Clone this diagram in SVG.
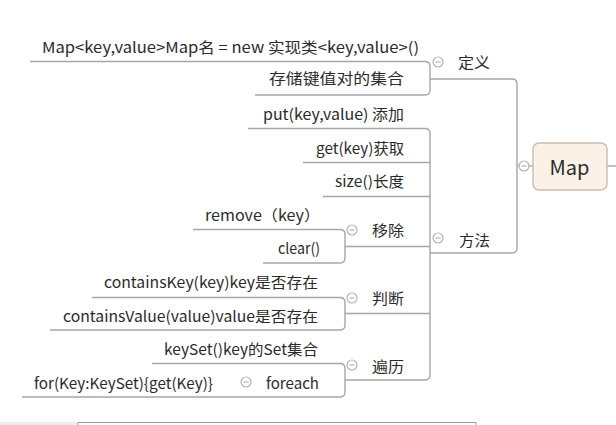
<svg xmlns="http://www.w3.org/2000/svg" width="616" height="425" viewBox="0 0 616 425">
<style>
.t{font-family:"Microsoft YaHei","Noto Sans CJK SC","Noto Sans",sans-serif;font-size:15px;fill:#2b2b2b;dominant-baseline:central;text-anchor:end}
.c{fill:none;stroke:#a6a6a6;stroke-width:1.4}
.btn{fill:#fff;stroke:#b4b4b4;stroke-width:1.2}
.mn{stroke:#b4b4b4;stroke-width:1.2}
</style>
<defs>
<g id="col"><circle class="btn" r="5"/><line class="mn" x1="-2.5" y1="0" x2="2.5" y2="0"/></g>
</defs>
<rect width="616" height="425" fill="#fff"/>
<g id="connectors">
<path class="c" d="M607,166 H616"/>
<path class="c" d="M517,166 H533"/>
<path class="c" d="M430,79 H512 Q517,79 517,84 V248 Q517,253 512,253 H430"/>
<path class="c" d="M30,61.5 H425 Q430,61.5 430,66.5 V90 Q430,95 425,95 H255"/>
<path class="c" d="M248,128.5 H425 Q430,128.5 430,133.5 V375 Q430,380 425,380 H345"/>
<path class="c" d="M303,162.5 H430 M323,196.5 H430 M345,246.5 H430 M345,313.5 H430"/>
<path class="c" d="M193,229.5 H340 Q345,229.5 345,234.5 V258 Q345,263 340,263 H263"/>
<path class="c" d="M92,297.5 H340 Q345,297.5 345,302.5 V325 Q345,330 340,330 H50"/>
<path class="c" d="M152,363.5 H340 Q345,363.5 345,368.5 V392 Q345,397 340,397 H22"/>
</g>
<g id="n-map">
<rect x="533" y="143" width="74" height="47" rx="6" fill="#fcf1e7" stroke="#cbbcae" stroke-width="1.4"/>
<text class="t" x="569.5" y="166" style="text-anchor:middle;font-size:20px">Map</text>
<use href="#col" x="524" y="166"/>
</g>
<g id="n-def">
<text class="t" x="490" y="61" textLength="32" lengthAdjust="spacingAndGlyphs">定义</text>
<use href="#col" x="438" y="62"/>
</g>
<g id="n-def1"><text class="t" x="419" y="46" textLength="377" lengthAdjust="spacingAndGlyphs">Map&lt;key,value&gt;Map名 = new 实现类&lt;key,value&gt;()</text></g>
<g id="n-def2"><text class="t" x="404" y="77" textLength="135" lengthAdjust="spacingAndGlyphs">存储键值对的集合</text></g>
<g id="n-method">
<text class="t" x="490" y="239" textLength="31" lengthAdjust="spacingAndGlyphs">方法</text>
<use href="#col" x="438" y="238"/>
</g>
<g id="n-put"><text class="t" x="404" y="113" textLength="141" lengthAdjust="spacingAndGlyphs">put(key,value)  添加</text></g>
<g id="n-get"><text class="t" x="404" y="147" textLength="88" lengthAdjust="spacingAndGlyphs">get(key)获取</text></g>
<g id="n-size"><text class="t" x="404" y="180" textLength="69" lengthAdjust="spacingAndGlyphs">size()长度</text></g>
<g id="n-remove-grp">
<text class="t" x="404" y="229" textLength="32" lengthAdjust="spacingAndGlyphs">移除</text>
<use href="#col" x="352" y="230"/>
</g>
<g id="n-remove"><text class="t" x="320" y="214" textLength="115" lengthAdjust="spacingAndGlyphs">remove（key）</text></g>
<g id="n-clear"><text class="t" x="320" y="247" textLength="42" lengthAdjust="spacingAndGlyphs">clear()</text></g>
<g id="n-judge">
<text class="t" x="404" y="297" textLength="32" lengthAdjust="spacingAndGlyphs">判断</text>
<use href="#col" x="352" y="298"/>
</g>
<g id="n-ck"><text class="t" x="318" y="281" textLength="214" lengthAdjust="spacingAndGlyphs">containsKey(key)key是否存在</text></g>
<g id="n-cv"><text class="t" x="318" y="315" textLength="255" lengthAdjust="spacingAndGlyphs">containsValue(value)value是否存在</text></g>
<g id="n-iter">
<text class="t" x="404" y="365" textLength="32" lengthAdjust="spacingAndGlyphs">遍历</text>
<use href="#col" x="352" y="365"/>
</g>
<g id="n-keyset"><text class="t" x="318" y="348" textLength="154" lengthAdjust="spacingAndGlyphs">keySet()key的Set集合</text></g>
<g id="n-foreach">
<text class="t" x="319" y="382" textLength="53" lengthAdjust="spacingAndGlyphs">foreach</text>
<use href="#col" x="246" y="382"/>
</g>
<g id="n-for"><text class="t" x="213" y="382" textLength="179" lengthAdjust="spacingAndGlyphs">for(Key:KeySet){get(Key)}</text></g>
<g id="bottom-edge">
<rect x="0" y="422" width="78" height="3" fill="#ececec"/>
<path d="M78,425 V422.5 H476 V425" fill="none" stroke="#9a9a9a" stroke-width="1"/>
</g>
</svg>
